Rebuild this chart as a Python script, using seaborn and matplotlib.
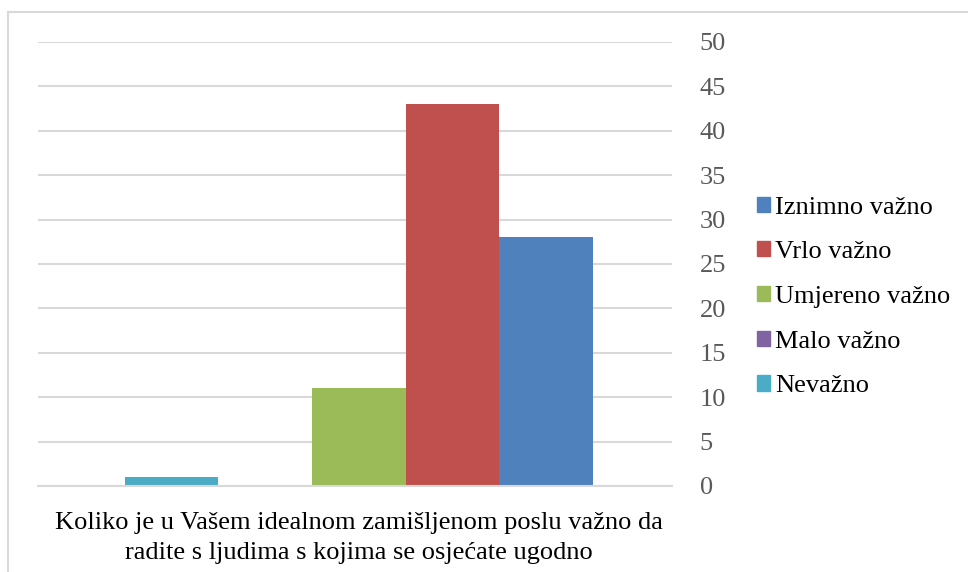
import matplotlib
matplotlib.use('Agg')
import matplotlib.pyplot as plt
import pandas as pd
import seaborn as sns
from matplotlib.patches import Rectangle

# data
question = 'Koliko je u Vašem idealnom zamišljenom poslu važno da\nradite s ljudima s kojima se osjećate ugodno'
answers = ['Nevažno', 'Malo važno', 'Umjereno važno', 'Vrlo važno', 'Iznimno važno']
counts = [1, 0, 11, 43, 28]
colors = ['#4BACC6', '#8064A2', '#9BBB59', '#C0504D', '#4F81BD']
yticks = list(range(0, 51, 5))

df = pd.DataFrame({'pitanje': [question] * len(answers), 'odgovor': answers, 'broj': counts})

sns.set_theme(style='white')
plt.rcParams['font.family'] = ['Liberation Serif', 'DejaVu Serif']

fig = plt.figure(figsize=(9.68, 5.72), dpi=100)
ax = fig.add_axes([38 / 968, 1 - 486 / 572, (672 - 38) / 968, (486 - 42) / 572])

sns.barplot(data=df, x='pitanje', y='broj', hue='odgovor', hue_order=answers,
            palette=colors, width=0.738, saturation=1, linewidth=0, ax=ax, legend=False)

ax.set_xlim(-0.506, 0.494)
ax.set_ylim(0, 50)
ax.set_yticks(yticks)
ax.yaxis.tick_right()
ax.tick_params(axis='y', length=0, pad=20, labelsize=19, labelcolor='#595959')
ax.set_xticks([0])
ax.set_xticklabels([question], linespacing=1.45)
ax.tick_params(axis='x', length=0, pad=19, labelsize=19, labelcolor='black')
ax.set_xlabel('')
ax.set_ylabel('')
ax.grid(axis='y', color='#D9D9D9', linewidth=1.5)
ax.set_axisbelow(True)
for side in ['left', 'right', 'top']:
    ax.spines[side].set_visible(False)
ax.spines['bottom'].set_color('#D9D9D9')
ax.spines['bottom'].set_linewidth(1.5)

# legend, reversed order like the original
handles = [Rectangle((0, 0), 1, 1, color=c) for c in colors][::-1]
fig.legend(handles, answers[::-1], loc='center left', bbox_to_anchor=(733 / 968, 1 - 297 / 572),
           frameon=False, fontsize=19, handlelength=0.5, handleheight=0.5,
           handletextpad=0.2, labelspacing=0.86, labelcolor='black')

# chart border
fig.patches.append(Rectangle((8 / 968, -0.1), 1.2, 1 - 12 / 572 + 0.1, transform=fig.transFigure,
                             fill=False, edgecolor='#D9D9D9', linewidth=1.5))

fig.savefig('out.png', dpi=100)
